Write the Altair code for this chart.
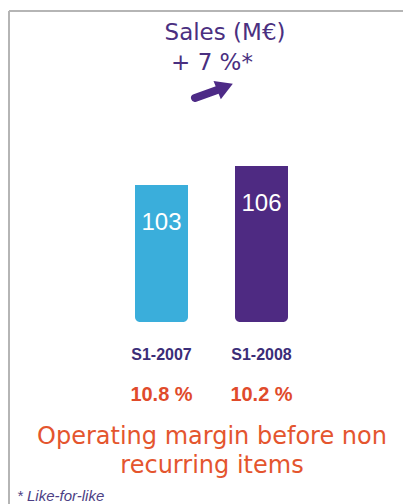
import altair as alt
import pandas as pd

categories = ["S1-2007", "S1-2008"]
sales = [103, 106]
margin_labels = ["10.8 %", "10.2 %"]
bar_colors = ["#3aaedb", "#4e2a82"]

title_line1 = "Sales (M€)"
title_line2 = "+ 7 %*"
footer_lines = ["Operating margin before non", "recurring items"]
footnote = "* Like-for-like"

df = pd.DataFrame({"cat": categories, "sales": sales, "margin": margin_labels})

y_base = 81.4
xs = alt.X("cat:N", scale=alt.Scale(domain=categories, range=[135, 288], paddingInner=0.47, paddingOuter=0), axis=None)
ys = alt.Y("sales:Q", scale=alt.Scale(domain=[y_base, 106], range=[322, 166], zero=False, nice=False), axis=None)

base = alt.Chart(df)

bars = base.mark_bar(cornerRadiusBottomLeft=5, cornerRadiusBottomRight=5).encode(
    x=xs, y=ys, y2=alt.datum(y_base),
    color=alt.Color("cat:N", scale=alt.Scale(domain=categories, range=bar_colors), legend=None),
)

values = base.mark_text(font="Liberation Sans", fontSize=24, color="white", dy=38).encode(
    x=xs, y=ys, text="sales:Q"
)

cats = base.mark_text(font="Liberation Sans", fontSize=16, fontWeight="bold", color="#3b2d78").encode(
    x=xs, y=alt.value(355), text="cat:N"
)

margins = base.mark_text(font="Liberation Sans", fontSize=20, fontWeight="bold", color="#e04b2b").encode(
    x=xs, y=alt.value(395), text="margin:N"
)

ann = pd.DataFrame({"t": [0]})
abase = alt.Chart(ann)

t1 = abase.mark_text(font="DejaVu Sans", fontSize=23, color="#4a2f80").encode(
    x=alt.value(225), y=alt.value(33), text=alt.value(title_line1))
t2 = abase.mark_text(font="DejaVu Sans", fontSize=23, color="#4a2f80").encode(
    x=alt.value(212), y=alt.value(63), text=alt.value(title_line2))

f1 = abase.mark_text(font="DejaVu Sans", fontSize=24, color="#e4552e").encode(
    x=alt.value(212), y=alt.value(437), text=alt.value(footer_lines[0]))
f2 = abase.mark_text(font="DejaVu Sans", fontSize=24, color="#e4552e").encode(
    x=alt.value(212), y=alt.value(466), text=alt.value(footer_lines[1]))
fn = abase.mark_text(font="Liberation Sans", fontSize=15, fontStyle="italic", color="#4d3f85", align="left").encode(
    x=alt.value(17), y=alt.value(496), text=alt.value(footnote))

shaft = abase.mark_rule(strokeWidth=8, color="#4d2a86", strokeCap="round").encode(
    x=alt.value(195), y=alt.value(98), x2=alt.value(220), y2=alt.value(89))
head = abase.mark_point(shape="triangle-right", filled=True, size=380, angle=338, color="#4d2a86", opacity=1).encode(
    x=alt.value(225), y=alt.value(87))

frame_left = abase.mark_rule(strokeWidth=2, color="#b5b5b5").encode(
    x=alt.value(9), y=alt.value(11), y2=alt.value(504))
frame_top = abase.mark_rule(strokeWidth=2, color="#b5b5b5").encode(
    x=alt.value(9), x2=alt.value(403), y=alt.value(11))

chart = alt.layer(
    frame_left, frame_top, bars, values, cats, margins, t1, t2, f1, f2, fn, shaft, head
).properties(
    width=403, height=504, autosize=alt.AutoSizeParams(type="none"), padding=0,
    background="white"
).configure_view(stroke=None)

chart.save("out.html", embed_options={"renderer": "svg", "actions": False})
